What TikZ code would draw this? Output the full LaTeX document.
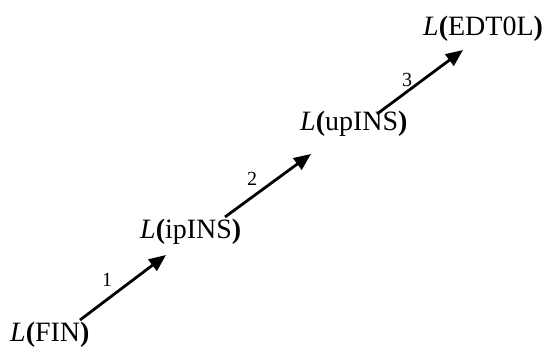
\documentclass[tikz,border=0pt]{standalone}
\usepackage{fontspec}
\setmainfont{Liberation Serif}
\usetikzlibrary{arrows.meta}
\tikzset{
  lang/.style={anchor=base west, inner sep=0pt, font=\fontsize{28}{30}\selectfont},
  num/.style={inner sep=0pt, font=\fontsize{20}{22}\selectfont},
  arr/.style={line width=2.8pt, -{Triangle[length=17pt,width=14pt]}}
}
\newcommand{\Lang}[1]{\textit{L}\textbf{(}#1\textbf{)}}
\begin{document}
\begin{tikzpicture}[x=1pt,y=-1pt]
\useasboundingbox (0,0) rectangle (547,347);
\node[lang] (fin) at (10,342) {\Lang{FIN}};
\node[lang] (ip) at (140,239) {\Lang{ipINS}};
\node[lang] (up) at (300,131) {\Lang{upINS}};
\node[lang] (edt) at (423,36) {\Lang{EDT0L}};
\coordinate (t1) at (80,320); \coordinate (h1) at (166,255);
\coordinate (t2) at (225,217); \coordinate (h2) at (311,154);
\coordinate (t3) at (377,114); \coordinate (h3) at (463,50);
\draw[arr] (t1) -- (h1);
\draw[arr] (t2) -- (h2);
\draw[arr] (t3) -- (h3);
\node[num] (n1) at (107,280) {1};
\node[num] (n2) at (252,179) {2};
\node[num] (n3) at (407,80) {3};
\end{tikzpicture}
\end{document}
